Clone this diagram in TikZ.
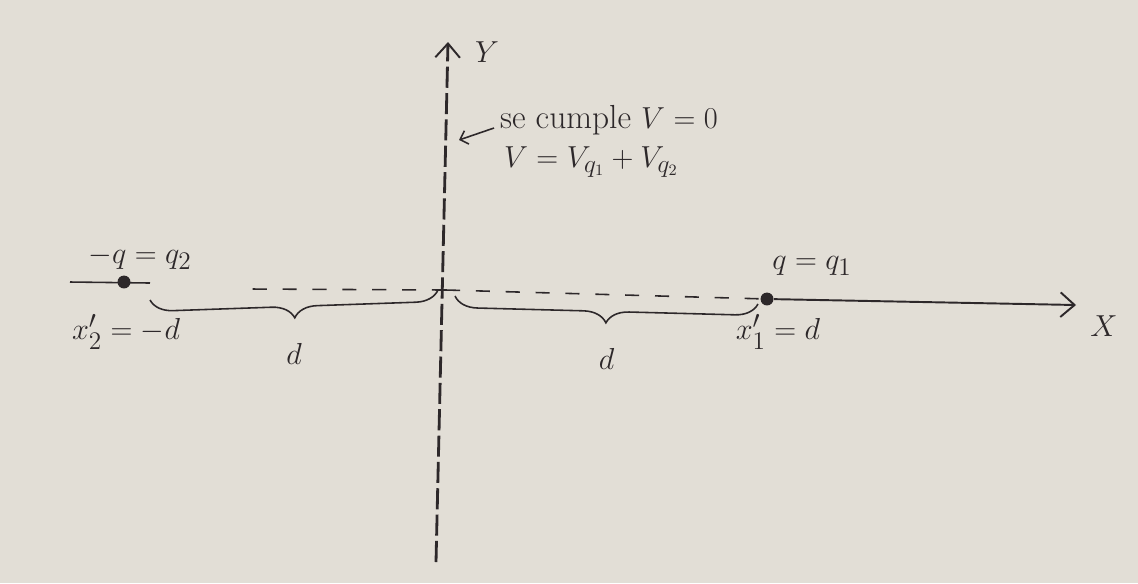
\documentclass[tikz,border=0pt]{standalone}
\usepackage{amsmath,amssymb}
\usetikzlibrary{positioning,calc}
\usetikzlibrary{arrows.meta,decorations.pathreplacing}
\definecolor{Paper}{RGB}{226,222,214}
\definecolor{Ink}{RGB}{45,40,42}
\tikzset{
	charge/.style={circle,fill=Ink,inner sep=2.6pt},
	axis/.style={draw=Ink,line width=1.1pt,-{Straight Barb[length=8pt,width=14pt,line width=1.1pt]}},
	guide/.style={draw=Ink,line width=0.9pt,dash pattern=on 8pt off 9pt},
	dist/.style={draw=Ink,line width=0.9pt,decorate,decoration={brace,mirror,amplitude=13pt}},
	txt/.style={text=Ink,font=\fontsize{19}{22}\selectfont,inner sep=1pt},
}
\begin{document}
\begin{tikzpicture}[x=0.02cm,y=-0.02cm]
			\useasboundingbox[fill=Paper] (0,0) rectangle (1138,583);
			% axes
			\coordinate (O) at (446,290);
			\coordinate (ybot) at (436,562);
			\coordinate (ytop) at (448,42);
			\coordinate (xtip) at (1076,305);
			\coordinate (xleft) at (250,289);
			\node[charge] (q1) at (767,299) {};
			\node[charge] (q2) at (124,282) {};
			\coordinate (q2a) at (70,282);
			\coordinate (q2b) at (150,283);
			\draw[axis,line width=1.6pt,dash pattern=on 12pt off 3pt] (ybot) -- (ytop);
			\draw[guide] (O) -- (q1);
			\draw[guide] (O) -- (xleft);
			\draw[axis] (q1) -- (xtip);
			\draw[draw=Ink,line width=0.9pt] (q2a) -- (q2b);
			\node[txt] (ylab) at (487,52) {$Y$};
			\node[txt] (xlab) at (1104,326) {$X$};
			% distances
			\draw[dist] (150,300) -- (438,290) node[midway,below=26pt,txt] (d2) {$d$};
			\draw[dist] (455,296) -- (758,304) node[midway,below=26pt,txt] (d1) {$d$};
			% charges
			\node[txt] (q2lab) at (140,258) {$-q = q_2$};
			\node[txt] (q1lab) at (812,266) {$q = q_1$};
			\node[txt] (x2lab) at (126,332) {$x'_2 = -d$};
			\node[txt] (x1lab) at (778,332) {$x'_1 = d$};
			% note on the y axis
			\node[txt,anchor=west] (cond) at (498,120) {se cumple $V = 0$};
			\node[txt,anchor=west] (vsum) at (502,162) {$V = V_{q_1} + V_{q_2}$};
			\coordinate (tip) at (459,140);
			\draw[draw=Ink,line width=0.9pt,-{Straight Barb[length=4pt,width=8pt]}] (cond.west) ++(-4,8) -- (tip);
		\end{tikzpicture}
\end{document}
